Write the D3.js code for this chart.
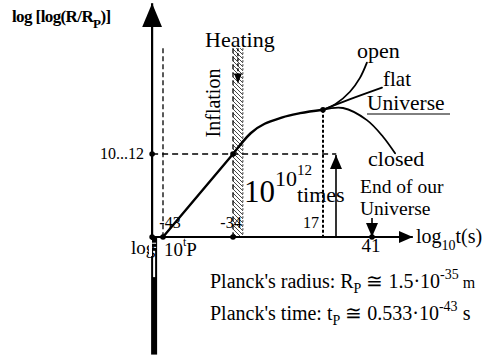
<!DOCTYPE html>
<html>
<head>
<meta charset="utf-8">
<script src="https://cdn.jsdelivr.net/npm/d3@7"></script>
<style>
  body { margin: 0; background: #fff; }
</style>
</head>
<body>
<div id="chart"></div>
<script>
// time axis ticks (log10 t, seconds)
const xTicks = [-43, -34, 17, 41];
const yLevel = 12;
const yLevelLabel = "10...12";

// log[log(R/Rp)] vs log10 t
const inflationLine = [[-43, 0], [-34, 12]];
const expansion = [[-34, 12], [-24, 15], [-6, 17.3], [4, 17.9], [17, 18.4]];
const openBranch = [[17, 18.4], [23, 19.2], [30.2, 21.0], [35.1, 23.0], [38.5, 25.2]];
const flatBranch = [[17, 18.4], [30, 19.9], [45.9, 21.6]];
const closedBranch = [[17, 18.4], [26.8, 18.65], [38.5, 16.9], [46.4, 14.5], [52.3, 12.1]];

const axisT = [-44.4, 61];   // horizontal axis extent
const axisY = [-17, 33.8];   // vertical axis extent
const hatchBand = [-34, -28.4];
const hatchTop = 27.3;
const heatingT = -31.2;
const endT = 41;

const width = 495, height = 356;
const serif = "'Liberation Serif', 'Times New Roman', Times, 'DejaVu Serif', serif";

const svg = d3.select("#chart").append("svg")
  .attr("width", width)
  .attr("height", height)
  .attr("font-family", serif)
  .style("font-family", serif)
  .style("display", "block");

// schematic (piecewise) time scale
const x = d3.scaleLinear().domain(xTicks).range([163, 233, 323, 372]);
const y = d3.scaleLinear().domain([0, 12]).range([237, 154]);

const defs = svg.append("defs");
const pat = defs.append("pattern")
  .attr("id", "hatch")
  .attr("patternUnits", "userSpaceOnUse")
  .attr("width", 4).attr("height", 4);
pat.append("path")
  .attr("d", "M-1,-1 L5,5 M-1,3 L1,5 M3,-1 L5,1")
  .attr("stroke", "#333")
  .attr("stroke-width", 0.9);

const arrow = (id, w, h) => {
  defs.append("marker")
    .attr("id", id)
    .attr("viewBox", `0 0 ${h} ${w}`)
    .attr("refX", h).attr("refY", w / 2)
    .attr("markerWidth", h).attr("markerHeight", w)
    .attr("markerUnits", "userSpaceOnUse")
    .attr("orient", "auto")
    .append("path")
    .attr("d", `M0,0 L${h},${w / 2} L0,${w} Z`)
    .attr("fill", "#000");
};
arrow("arrowBig", 20, 24);
arrow("arrowMid", 12, 14);
arrow("arrowSmall", 8, 10);

// hatched inflation band
svg.append("rect")
  .attr("x", x(hatchBand[0]))
  .attr("y", y(hatchTop))
  .attr("width", x(hatchBand[1]) - x(hatchBand[0]))
  .attr("height", y(0) - y(hatchTop))
  .attr("fill", "url(#hatch)");

// dashed guides
const dashed = (x1, y1, x2, y2, dash) => svg.append("line")
  .attr("x1", x1).attr("y1", y1).attr("x2", x2).attr("y2", y2)
  .attr("stroke", "#000")
  .attr("stroke-width", 1.3)
  .attr("stroke-dasharray", dash);

dashed(x(-43), y(hatchTop), x(-43), y(0), "5,3");
dashed(x(-34), y(hatchTop), x(-34), y(0), "5,3");
dashed(x(hatchBand[1]), y(hatchTop), x(hatchBand[1]), y(0), "2,2").attr("stroke-width", 0.8);
dashed(x(axisT[0]), y(yLevel), x(23.5), y(yLevel), "6,4");
dashed(x(17), y(18.4), x(17), y(0), "3,2").attr("stroke-width", 2);

// horizontal axis
svg.append("line")
  .attr("x1", x(axisT[0])).attr("y1", y(0))
  .attr("x2", x(axisT[1])).attr("y2", y(0))
  .attr("stroke", "#000").attr("stroke-width", 2.2)
  .attr("marker-end", "url(#arrowMid)");

// vertical axis
svg.append("line")
  .attr("x1", x(axisT[0])).attr("y1", y(0))
  .attr("x2", x(axisT[0])).attr("y2", y(axisY[1]))
  .attr("stroke", "#000").attr("stroke-width", 2.2)
  .attr("marker-end", "url(#arrowBig)");

// lower (negative) part of vertical axis, drawn thick and hollow at top
const x0 = x(axisT[0]);
svg.append("rect")
  .attr("x", x0 - 1).attr("y", y(0))
  .attr("width", 6).attr("height", y(axisY[0]) - y(0))
  .attr("fill", "#000");
svg.append("rect")
  .attr("x", x0 + 1).attr("y", y(-2))
  .attr("width", 2).attr("height", y(-5.8) - y(-2))
  .attr("fill", "#fff");
[-0.9, -1.5].forEach(v => svg.append("line")
  .attr("x1", x0).attr("x2", x0 + 4)
  .attr("y1", y(v)).attr("y2", y(v))
  .attr("stroke", "#fff").attr("stroke-width", 1));

// curves
const line = d3.line().x(d => x(d[0])).y(d => y(d[1]));
const smooth = d3.line().x(d => x(d[0])).y(d => y(d[1])).curve(d3.curveMonotoneX);
const smoothCR = d3.line().x(d => x(d[0])).y(d => y(d[1])).curve(d3.curveCatmullRom);

const curveStyle = p => p.attr("fill", "none").attr("stroke", "#000")
  .attr("stroke-width", 2.4).attr("stroke-linecap", "round");

svg.append("path").attr("d", line(inflationLine)).call(curveStyle);
svg.append("path").attr("d", smooth(expansion)).call(curveStyle);
svg.append("path").attr("d", smoothCR(openBranch)).call(curveStyle).attr("stroke-width", 1.8);
svg.append("path").attr("d", smoothCR(flatBranch)).call(curveStyle).attr("stroke-width", 1.8);
svg.append("path").attr("d", smoothCR(closedBranch)).call(curveStyle).attr("stroke-width", 1.8);

// dots
const dots = [[axisT[0], 0], [axisT[0], yLevel], [-43, 0], [-34, 0], [-34, yLevel], [17, 18.4], [endT, 0]];
svg.selectAll("circle.dot").data(dots).enter().append("circle")
  .attr("class", "dot")
  .attr("cx", d => x(d[0])).attr("cy", d => y(d[1]))
  .attr("r", 2.8).attr("fill", "#000");

// heating arrow
svg.append("line")
  .attr("x1", x(heatingT)).attr("y1", y(hatchTop))
  .attr("x2", x(heatingT)).attr("y2", y(22.2))
  .attr("stroke", "#000").attr("stroke-width", 1.4)
  .attr("stroke-dasharray", "3,2")
  .attr("marker-end", "url(#arrowSmall)");

// 10^10^12 times arrow
svg.append("line")
  .attr("x1", 336).attr("y1", y(0))
  .attr("x2", 336).attr("y2", y(yLevel) + 1)
  .attr("stroke", "#000").attr("stroke-width", 1.6)
  .attr("marker-end", "url(#arrowMid)");

// end of universe arrow
svg.append("line")
  .attr("x1", x(endT)).attr("y1", 218)
  .attr("x2", x(endT)).attr("y2", y(0))
  .attr("stroke", "#000").attr("stroke-width", 1.6)
  .attr("marker-end", "url(#arrowMid)");

// tick labels
const tickLabel = svg.append("g").attr("font-size", 16);
tickLabel.append("text").attr("x", x(-43) + 7).attr("y", 228).attr("text-anchor", "middle").text("-43");
tickLabel.append("text").attr("x", x(-34) - 2).attr("y", 228).attr("text-anchor", "middle").text("-34");
tickLabel.append("text").attr("x", x(17) - 4).attr("y", 228).attr("text-anchor", "end").text("17");
tickLabel.append("text").attr("x", x(41) - 1).attr("y", 252).attr("text-anchor", "middle").attr("font-size", 19).text("41");
svg.append("text").attr("x", 144).attr("y", y(yLevel) + 5)
  .attr("text-anchor", "end").attr("font-size", 16).text(yLevelLabel);

// origin label
const origin = svg.append("text").attr("font-size", 19).attr("y", 254);
origin.append("tspan").attr("x", 131).text("log");
svg.append("rect").attr("x", 149).attr("y", 240).attr("width", 3).attr("height", 16).attr("fill", "#fff");
const o2 = svg.append("text").attr("font-size", 19).attr("x", 164).attr("y", 256);
o2.append("tspan").text("10");
o2.append("tspan").attr("font-size", 12).attr("dy", -10).text("t");
o2.append("tspan").attr("dy", 10).text("P");

// axis titles
const yt = svg.append("text").attr("x", 12).attr("y", 22)
  .attr("font-size", 17).attr("font-weight", "bold").attr("letter-spacing", -0.6);
yt.append("tspan").text("log [log(R/R");
yt.append("tspan").attr("font-size", 13).attr("dy", 6).text("P");
yt.append("tspan").attr("dy", -6).text(")]");

const xt = svg.append("text").attr("x", 416).attr("y", 243).attr("font-size", 20);
xt.append("tspan").text("log");
xt.append("tspan").attr("font-size", 14).attr("dy", 7).text("10");
xt.append("tspan").attr("dy", -7).text("t(s)");

// annotations
const ann = svg.append("g").attr("font-size", 22);
ann.append("text").attr("x", 205).attr("y", 47).text("Heating");
ann.append("text").attr("transform", "translate(220,103) rotate(-90)")
  .attr("text-anchor", "middle").attr("font-size", 20).text("Inflation");
ann.append("text").attr("x", 357).attr("y", 58).text("open");
ann.append("text").attr("x", 383).attr("y", 86).attr("font-size", 21).text("flat");
ann.append("text").attr("x", 367).attr("y", 110).attr("font-size", 21.5).text("Universe");
svg.append("line").attr("x1", 367).attr("x2", 450).attr("y1", 114).attr("y2", 114)
  .attr("stroke", "#000").attr("stroke-width", 1);
ann.append("text").attr("x", 368).attr("y", 166).text("closed");
ann.append("text").attr("x", 297).attr("y", 202).text("times");
ann.append("text").attr("x", 360).attr("y", 193).attr("font-size", 19.5).text("End of our");
ann.append("text").attr("x", 360).attr("y", 215).attr("font-size", 19.5).text("Universe");

const pw = svg.append("text").attr("x", 244).attr("y", 202).attr("font-size", 31);
pw.append("tspan").text("10");
pw.append("tspan").attr("font-size", 22).attr("dy", -16).text("10");
pw.append("tspan").attr("font-size", 15).attr("dy", -11).text("12");

// Planck values
const p1 = svg.append("text").attr("x", 210).attr("y", 288).attr("font-size", 20);
p1.append("tspan").text("Planck's radius:  R");
p1.append("tspan").attr("font-size", 14).attr("dy", 5).text("P");
p1.append("tspan").attr("dy", -5).text(" \u2245 1.5\u00b710");
p1.append("tspan").attr("font-size", 14).attr("dy", -9).text("-35");
p1.append("tspan").attr("dy", 9).attr("font-size", 16).text(" m");

const p2 = svg.append("text").attr("x", 210).attr("y", 320).attr("font-size", 20);
p2.append("tspan").text("Planck's time:  t");
p2.append("tspan").attr("font-size", 14).attr("dy", 5).text("P");
p2.append("tspan").attr("dy", -5).text(" \u2245 0.533\u00b710");
p2.append("tspan").attr("font-size", 14).attr("dy", -9).text("-43");
p2.append("tspan").attr("dy", 9).text(" s");
</script>
</body>
</html>
